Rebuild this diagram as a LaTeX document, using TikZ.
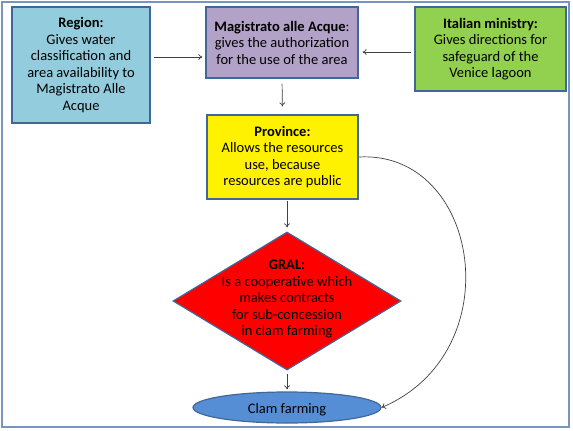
\documentclass[tikz,border=0pt]{standalone}
\usepackage{fontspec}
\setmainfont{Carlito}
\usetikzlibrary{shapes.geometric,arrows.meta}

\begin{document}
\begin{tikzpicture}[x=1pt,y=-1pt,
  box/.style={draw=boxline, line width=1.2pt, rectangle, align=center, font=\fontsize{14.5}{16.5}\selectfont},
  arr/.style={-{To[length=4pt,width=6pt]}, draw=arrgray, line width=0.7pt},
  txt/.style={align=center, font=\fontsize{14.5}{16.5}\selectfont}]
\definecolor{boxline}{HTML}{41679A}
\definecolor{arrgray}{HTML}{404040}
\definecolor{framecol}{HTML}{7A95BD}
\useasboundingbox (0,0) rectangle (573,431);
\draw[framecol, line width=2pt] (2,2) rectangle (569,427);

\node[box, fill={rgb,255:red,147;green,205;blue,221}, minimum width=138pt, minimum height=116pt] (region) at (81,65) {\textbf{Region:}\\Gives water\\classification and\\area availability to\\Magistrato Alle\\Acque};
\node[box, fill={rgb,255:red,179;green,162;blue,199}, minimum width=152pt, minimum height=71pt] (mag) at (282,42.5) {\textbf{Magistrato alle Acque}:\\gives the authorization\\for the use of the area};
\node[box, fill={rgb,255:red,146;green,208;blue,80}, minimum width=151pt, minimum height=84pt] (ital) at (490.5,49) {\textbf{Italian ministry:}\\Gives directions for\\safeguard of the\\Venice lagoon};
\node[box, fill=yellow, minimum width=151pt, minimum height=84pt] (prov) at (282.5,157) {\textbf{Province:}\\Allows the resources\\use, because\\resources are public};
\node[draw=boxline, line width=1.2pt, diamond, fill=red, inner sep=0pt, minimum width=228pt, minimum height=138pt] (gral) at (287,301) {};
\node[txt] (graltext) at (287,299) {\textbf{GRAL:}\\Is a cooperative which\\makes contracts\\for sub-concession\\in clam farming};
\node[draw=boxline, line width=1.2pt, ellipse, fill={rgb,255:red,85;green,142;blue,213}, inner sep=0pt, minimum width=188pt, minimum height=31pt] (clam) at (287,407.5) {};
\node[txt] (clamtext) at (287,410) {Clam farming};

\draw[arr, shorten <=3pt, shorten >=3pt] ([yshift=8pt]region.east) -- ([yshift=-14.5pt]mag.west);
\draw[arr, shorten <=3pt, shorten >=4pt] ([yshift=-3pt]ital.west) -- ([yshift=-9.5pt]mag.east);
\draw[arr, shorten <=5pt, shorten >=8pt] (mag.south) -- (prov.north);
\draw[arr, shorten <=1pt, shorten >=4pt] (prov.south -| gral.north) -- (gral.north);
\draw[arr, shorten <=3pt, shorten >=2pt] (gral.south) -- (clam.north);
\draw[arr] (prov.east) .. controls (480,150) and (512,352) .. (clam.east);
\end{tikzpicture}
\end{document}
